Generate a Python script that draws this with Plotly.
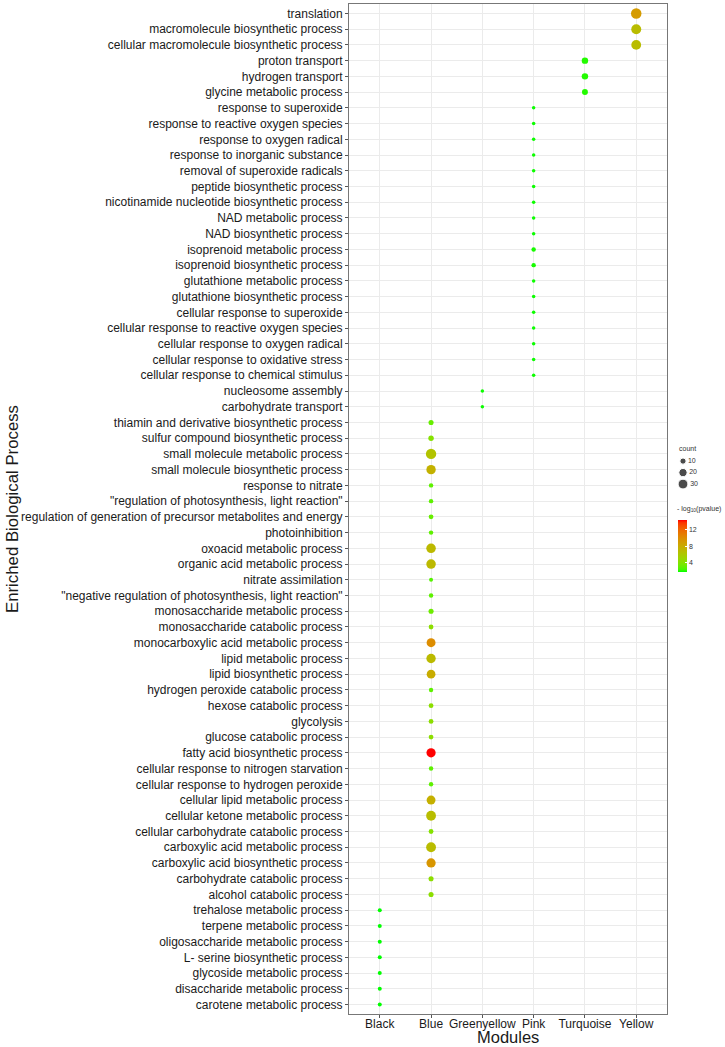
import numpy as np
import plotly.graph_objects as go

# GO 항목 (위에서 아래 순서)
terms = [
    'translation', 'macromolecule biosynthetic process', 'cellular macromolecule biosynthetic process',
    'proton transport', 'hydrogen transport', 'glycine metabolic process',
    'response to superoxide', 'response to reactive oxygen species', 'response to oxygen radical',
    'response to inorganic substance', 'removal of superoxide radicals', 'peptide biosynthetic process',
    'nicotinamide nucleotide biosynthetic process', 'NAD metabolic process', 'NAD biosynthetic process',
    'isoprenoid metabolic process', 'isoprenoid biosynthetic process', 'glutathione metabolic process',
    'glutathione biosynthetic process', 'cellular response to superoxide',
    'cellular response to reactive oxygen species', 'cellular response to oxygen radical',
    'cellular response to oxidative stress', 'cellular response to chemical stimulus',
    'nucleosome assembly', 'carbohydrate transport',
    'thiamin and derivative biosynthetic process', 'sulfur compound biosynthetic process',
    'small molecule metabolic process', 'small molecule biosynthetic process', 'response to nitrate',
    '"regulation of photosynthesis, light reaction"',
    'regulation of generation of precursor metabolites and energy', 'photoinhibition',
    'oxoacid metabolic process', 'organic acid metabolic process', 'nitrate assimilation',
    '"negative regulation of photosynthesis, light reaction"', 'monosaccharide metabolic process',
    'monosaccharide catabolic process', 'monocarboxylic acid metabolic process', 'lipid metabolic process',
    'lipid biosynthetic process', 'hydrogen peroxide catabolic process', 'hexose catabolic process',
    'glycolysis', 'glucose catabolic process', 'fatty acid biosynthetic process',
    'cellular response to nitrogen starvation', 'cellular response to hydrogen peroxide',
    'cellular lipid metabolic process', 'cellular ketone metabolic process',
    'cellular carbohydrate catabolic process', 'carboxylic acid metabolic process',
    'carboxylic acid biosynthetic process', 'carbohydrate catabolic process', 'alcohol catabolic process',
    'trehalose metabolic process', 'terpene metabolic process', 'oligosaccharide metabolic process',
    'L- serine biosynthetic process', 'glycoside metabolic process', 'disaccharide metabolic process',
    'carotene metabolic process',
]

module = (['Yellow'] * 3 + ['Turquoise'] * 3 + ['Pink'] * 18 + ['Greenyellow'] * 2
          + ['Blue'] * 31 + ['Black'] * 7)

count = [35, 31, 30,
         11, 11, 9,
         2, 2, 2, 2, 2, 2, 2, 2, 2, 4, 4, 2, 2, 2, 2, 2, 2, 2,
         2, 2,
         6, 7, 34, 27, 4, 4, 5, 4, 28, 28, 3, 4, 6, 5, 24, 27, 23, 4, 5, 5, 5, 26,
         4, 4, 24, 30, 5, 30, 26, 6, 6,
         3, 3, 3, 3, 3, 3, 3]

logp = [9.0, 6.8, 6.8,
        2.0, 2.0, 2.0,
        1.8, 1.8, 1.8, 1.8, 1.8, 1.8, 1.8, 1.8, 1.8, 1.9, 1.9, 1.8, 1.8, 1.8, 1.8, 1.8, 1.8, 1.8,
        1.8, 1.8,
        3.0, 4.0, 6.3, 7.5, 2.8, 2.8, 3.0, 2.8, 7.0, 7.0, 2.6, 2.8, 3.2, 4.3, 9.8, 6.9, 7.9, 2.8, 4.3, 4.3, 4.3, 14.2,
        2.8, 2.8, 7.6, 6.7, 4.0, 6.8, 9.3, 4.3, 4.3,
        1.7, 1.7, 1.7, 1.7, 1.7, 1.7, 1.7]

modules = ['Black', 'Blue', 'Greenyellow', 'Pink', 'Turquoise', 'Yellow']
legend_counts = [10, 20, 30]
cbar_ticks = [4, 8, 12]

# 픽셀 -> paper 좌표 (paper: x 349~722, y 3.5~1014.5 / 패널 오른쪽 끝 667)
L, R, T, B = 349, 722, 3.5, 1014.5
PANEL_R = 667
px = lambda x: (x - L) / (R - L)
py = lambda y: (B - y) / (B - T)


# ggplot 의 scale_size (면적 비례) 흉내
def size_scale(c, cmin=2, cmax=35, dmin=3.5, dmax=10.5):
    c = np.asarray(c, dtype=float)
    t = (np.sqrt(c) - np.sqrt(cmin)) / (np.sqrt(cmax) - np.sqrt(cmin))
    return dmin + (dmax - dmin) * t


# green -> red, Lab 보간 (ggplot scale_colour_gradient)
def srgb_to_lab(rgb):
    c = np.array(rgb) / 255.0
    c = np.where(c > 0.04045, ((c + 0.055) / 1.055) ** 2.4, c / 12.92)
    M = np.array([[0.4124, 0.3576, 0.1805], [0.2126, 0.7152, 0.0722], [0.0193, 0.1192, 0.9505]])
    xyz = M @ c / np.array([0.95047, 1.0, 1.08883])
    f = np.where(xyz > 0.008856, np.cbrt(xyz), 7.787 * xyz + 16 / 116)
    return np.array([116 * f[1] - 16, 500 * (f[0] - f[1]), 200 * (f[1] - f[2])])


def lab_to_srgb(lab):
    l_, a, b = lab
    fy = (l_ + 16) / 116
    f = np.array([fy + a / 500, fy, fy - b / 200])
    xyz = np.where(f ** 3 > 0.008856, f ** 3, (f - 16 / 116) / 7.787) * np.array([0.95047, 1.0, 1.08883])
    Minv = np.array([[3.2406, -1.5372, -0.4986], [-0.9689, 1.8758, 0.0415], [0.0557, -0.2040, 1.0570]])
    c = np.clip(Minv @ xyz, 0, 1)
    c = np.where(c > 0.0031308, 1.055 * c ** (1 / 2.4) - 0.055, 12.92 * c)
    r, g, bb = (np.clip(c, 0, 1) * 255).round().astype(int)
    return f'rgb({r},{g},{bb})'


lo = srgb_to_lab([0, 255, 0])
hi = srgb_to_lab([255, 0, 0])
colorscale = [[t, lab_to_srgb(lo + (hi - lo) * t)] for t in np.linspace(0, 1, 21)]

fig = go.Figure()
fig.add_trace(
    go.Scatter(
        x=module, y=terms, mode='markers', showlegend=False,
        marker=dict(
            size=size_scale(count), color=logp, colorscale=colorscale,
            cmin=min(logp), cmax=max(logp), opacity=1, line=dict(width=0),
            colorbar=dict(
                x=px(678), xanchor='left', y=py(546.5), yanchor='middle',
                lenmode='pixels', len=52, thickness=9, outlinewidth=0,
                xpad=0, ypad=0,
                tickvals=cbar_ticks, ticks='inside', ticklen=2, tickcolor='white',
                tickfont=dict(size=7, color='#333'),
            ),
        ),
    ))

# count 범례 (작은 보조 축에 그림)
fig.add_trace(
    go.Scatter(
        x=['key'] * len(legend_counts), y=[str(c) for c in legend_counts],
        mode='markers+text', text=[str(c) for c in legend_counts], textposition='middle right',
        textfont=dict(size=7, color='#333'),
        marker=dict(size=size_scale(legend_counts), color='black'),
        xaxis='x2', yaxis='y2', showlegend=False, hoverinfo='skip', cliponaxis=False,
    ))

axis_common = dict(
    showgrid=True, gridcolor='#EBEBEB', gridwidth=1,
    showline=True, linecolor='#777', linewidth=1, mirror=True,
    ticks='outside', ticklen=3, tickcolor='#555', zeroline=False,
)

fig.update_layout(
    width=725, height=1047,
    margin=dict(l=L, r=725 - R, t=T, b=1047 - B, autoexpand=False),
    paper_bgcolor='white', plot_bgcolor='white',
    font=dict(family='Liberation Sans, Arial, sans-serif', color='#1a1a1a'),
    xaxis=dict(
        domain=[0, px(PANEL_R)],
        type='category', categoryorder='array', categoryarray=modules, range=[-0.6, 5.6],
        tickfont=dict(size=12, color='#1a1a1a'), ticklabelstandoff=-4,
        **axis_common),
    yaxis=dict(
        type='category', categoryorder='array', categoryarray=terms[::-1], range=[-0.6, 63.6],
        tickfont=dict(size=12, color='#1a1a1a'),
        **axis_common),
    xaxis2=dict(domain=[px(677), px(689)], anchor='y2', type='category', range=[-0.5, 0.5],
                visible=False, fixedrange=True),
    yaxis2=dict(domain=[py(489.8), py(455.3)], anchor='x2', type='category',
                categoryorder='array', categoryarray=[str(c) for c in legend_counts[::-1]],
                range=[-0.5, 2.5], visible=False, fixedrange=True),
    showlegend=False,
)

fig.add_annotation(
    text='Enriched Biological Process', textangle=-90,
    xref='paper', yref='paper', x=px(12), y=py(509),
    xanchor='center', yanchor='middle',
    showarrow=False, font=dict(size=16.8, color='#1a1a1a'),
)
fig.add_annotation(
    text='Modules', xref='paper', yref='paper', x=px(508), y=py(1038),
    xanchor='center', yanchor='middle',
    showarrow=False, font=dict(size=16.5, color='#1a1a1a'),
)
fig.add_annotation(
    text='count', xref='paper', yref='paper', x=px(677), y=py(448),
    xanchor='left', yanchor='middle',
    showarrow=False, font=dict(size=7, color='#333'),
)
fig.add_annotation(
    text='- log<sub>10</sub>(pvalue)', xref='paper', yref='paper', x=px(675), y=py(509),
    xanchor='left', yanchor='middle',
    showarrow=False, font=dict(size=7, color='#333'),
)

# 브라우저 기본 body 여백 제거, 모드바 숨김
fig.write_html('out.html', config={'displayModeBar': False},
               post_script="document.body.style.margin='0';")
